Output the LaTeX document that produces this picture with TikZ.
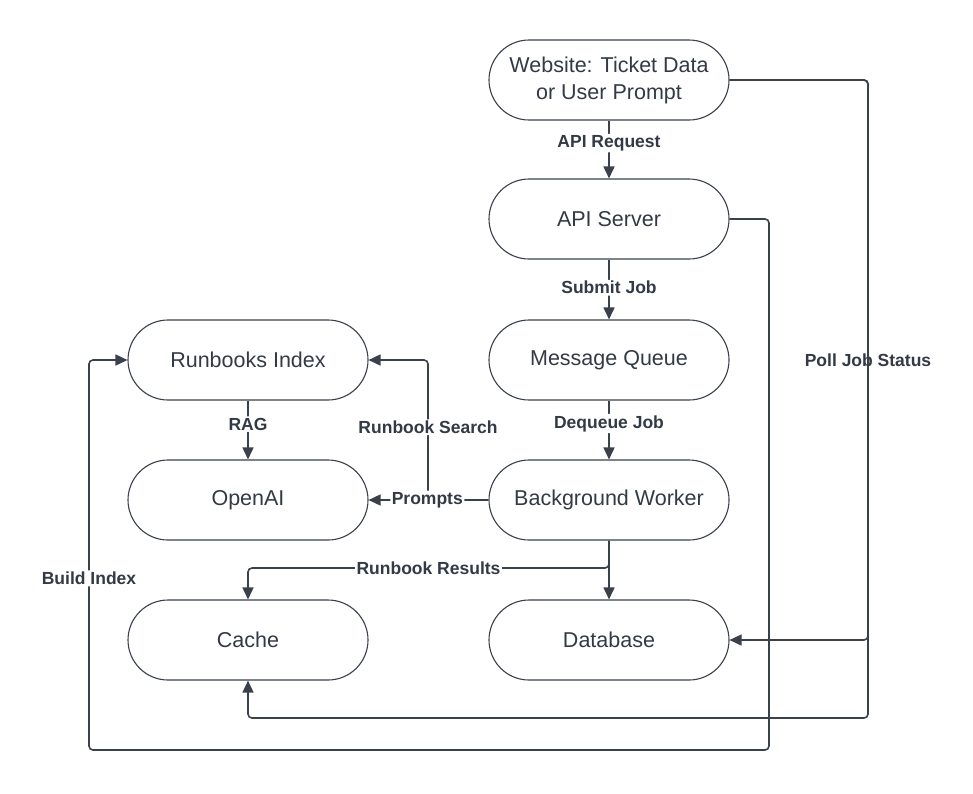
\documentclass[tikz,border=0pt]{standalone}
\usepackage{fontspec}
\setmainfont{Liberation Sans}
\usetikzlibrary{arrows.meta}
\definecolor{ln}{RGB}{58,65,74}
\definecolor{tx}{RGB}{51,58,70}
\begin{document}
\begin{tikzpicture}[x=1pt,y=-1pt,
 proc/.style={draw=ln, line width=1.1pt, rounded corners=40pt, minimum width=240pt, minimum height=80pt, inner sep=0pt, align=center, text=tx, font=\fontsize{21.5}{27}\selectfont},
 conn/.style={draw=ln, line width=1.6pt, rounded corners=4pt, -{Triangle[length=12pt,width=11pt]}},
 lab/.style={fill=white, text=tx, font=\bfseries\fontsize{17.5}{20}\selectfont, inner sep=1.5pt}]
\useasboundingbox (0,0) rectangle (973,793);
\fill[white] (0,0) rectangle (973,793);
\node[proc] (web) at (609,80) {Website: Ticket Data\\or User Prompt};
\node[proc] (api) at (609,219) {API Server};
\node[proc] (mq) at (609,360) {Message Queue};
\node[proc] (bw) at (609,500) {Background Worker};
\node[proc] (db) at (609,640) {Database};
\node[proc] (rb) at (248,360) {Runbooks Index};
\node[proc] (oa) at (248,500) {OpenAI};
\node[proc] (ca) at (248,640) {Cache};
\coordinate (wr) at (868,80);
\coordinate (ar) at (769,219);
\coordinate (rsx) at (428,500);
\coordinate (rr) at (609,568);
\coordinate (pb) at (868,718);
\coordinate (bb) at (769,750);
\coordinate (bl) at (89,750);
\draw[conn] (web.south) -- node[lab,pos=0.39]{API Request} (api.north);
\draw[conn] (api.south) -- node[lab,pos=0.47]{Submit Job} (mq.north);
\draw[conn] (mq.south) -- node[lab,pos=0.39]{Dequeue Job} (bw.north);
\draw[conn] (rb.south) -- node[lab,pos=0.40]{RAG} (oa.north);
\draw[conn] (bw.west) -- (rsx) |- node[lab,pos=0.26]{Runbook Search} (rb.east);
\draw[conn] (bw.west) -- node[lab,pos=0.51]{Prompts} (oa.east);
\draw[conn] (bw.south) -- (db.north);
\draw[conn] (bw.south) -- (rr) -| node[lab,pos=0.25]{Runbook Results} (ca.north);
\draw[conn] (web.east) -- (wr) |- node[lab,pos=0.25]{Poll Job Status} (db.east);
\draw[conn] (web.east) -- (wr) -- (pb) -| (ca.south);
\draw[conn] (api.east) -- (ar) -- (bb) -- (bl) |- node[lab,pos=0.22]{Build Index} (rb.west);
\end{tikzpicture}
\end{document}
